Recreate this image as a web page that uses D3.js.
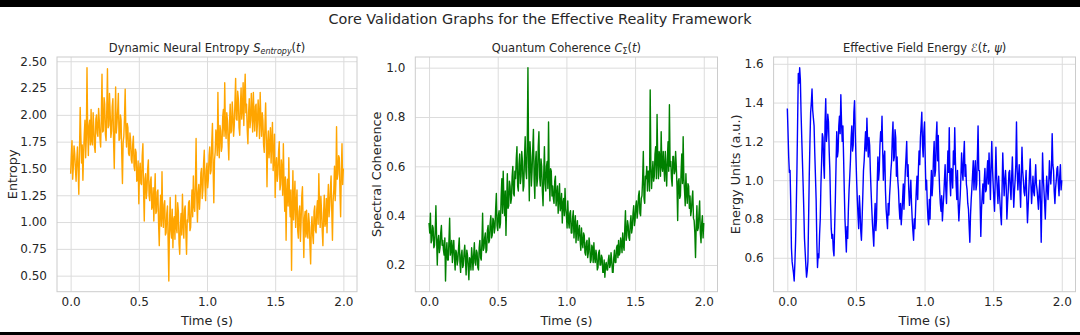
<!DOCTYPE html>
<html><head><meta charset="utf-8">
<script src="https://cdn.jsdelivr.net/npm/d3@7"></script>
<style>
body{margin:0;background:#fff}
svg{display:block}
text{font-family:"DejaVu Sans",sans-serif;fill:#262626}
</style>
</head><body><svg id="c" width="1080" height="335"></svg>
<script>
const chartTitle = "Core Validation Graphs for the Effective Reality Framework";
const xLabel = "Time (s)";
const xTicks = [0, 0.5, 1.0, 1.5, 2.0];
const timeStart = 0, timeStep = 0.005;

const entropy = [
1.45,1.62,1.76,1.40,1.52,1.71,1.64,1.50,1.38,1.58,
1.70,1.48,1.26,1.66,2.07,1.80,1.55,1.72,1.39,1.64,
1.82,1.95,1.60,1.78,2.44,1.85,1.62,1.90,1.95,1.72,
2.05,1.76,1.72,2.02,1.88,1.70,1.65,1.96,2.00,1.83,
1.80,2.06,1.95,1.78,1.70,1.98,2.38,1.84,1.85,2.16,
2.10,1.82,1.76,2.05,2.43,1.88,1.90,2.20,2.02,1.79,
1.85,2.08,2.15,1.75,1.50,1.92,2.26,1.83,1.92,2.04,
2.20,1.76,1.78,2.00,1.95,1.62,1.36,1.74,1.80,1.98,
2.24,1.85,1.70,1.92,1.88,1.64,1.62,1.83,1.76,1.58,
1.55,1.72,1.80,1.52,1.48,1.68,1.65,1.38,1.40,1.57,
1.17,1.48,1.55,1.36,1.35,1.62,1.73,1.28,1.01,1.40,
1.45,1.22,1.30,1.50,1.58,1.25,1.20,1.38,1.42,1.12,
1.15,1.32,1.01,1.24,1.45,1.08,1.10,1.28,1.30,0.98,
0.78,1.12,1.25,0.96,1.47,1.05,0.95,1.16,1.20,0.88,
0.90,1.08,1.15,0.82,0.45,0.98,1.23,0.92,0.85,1.12,
0.76,1.02,1.05,0.84,1.25,0.95,0.90,1.18,1.10,0.80,
0.70,0.96,1.08,0.88,1.26,0.98,0.85,1.12,1.15,0.90,
0.70,1.02,1.00,1.18,1.20,0.92,0.95,1.14,1.30,1.05,
1.43,1.15,1.10,1.36,1.78,1.22,1.00,1.28,1.35,1.12,
1.25,1.46,1.50,1.22,1.30,1.55,1.67,1.35,1.20,1.48,
1.55,1.32,1.40,1.62,1.70,1.45,1.48,1.75,1.92,1.50,
1.18,1.58,1.65,1.86,1.80,1.62,2.21,1.72,1.60,1.90,
1.85,1.66,1.70,1.98,2.05,1.80,2.30,1.88,1.78,2.02,
1.95,1.74,1.58,1.92,2.10,1.83,1.85,2.12,2.00,1.80,
1.90,2.12,2.34,1.96,1.95,2.22,2.15,1.88,1.81,2.08,
2.25,1.96,2.05,2.30,1.90,2.18,2.38,2.02,2.10,1.86,
1.73,2.02,2.15,1.88,1.95,2.20,2.05,1.84,2.21,1.98,
1.85,2.08,2.10,1.80,1.92,2.14,2.00,1.78,2.21,1.95,
1.80,2.02,1.95,1.72,1.65,1.90,2.11,1.78,1.33,1.74,
1.85,1.60,1.70,1.88,1.55,1.76,1.93,1.48,1.60,1.82,
1.23,1.52,1.60,1.38,1.45,1.66,1.75,1.30,1.35,1.58,
1.50,1.25,1.73,1.35,1.10,1.42,0.83,1.28,1.40,1.15,
1.60,1.22,1.05,1.30,0.55,1.12,1.48,1.02,1.20,1.38,
0.95,1.18,1.30,0.92,0.85,1.10,1.15,0.82,1.00,1.24,
1.33,0.98,0.67,1.04,1.10,0.86,1.11,0.90,0.85,1.08,
1.00,0.78,0.61,0.95,1.05,0.88,0.80,1.10,1.15,0.92,
0.90,1.12,1.20,0.98,1.45,1.16,0.95,1.24,1.10,0.92,
0.78,1.08,1.25,0.96,1.00,1.22,0.90,1.18,1.35,1.05,
1.15,1.32,1.43,1.10,0.83,1.20,1.30,1.52,1.20,1.36,
1.89,1.40,1.45,1.62,1.60,1.28,1.05,1.48,1.73,1.35,
1.50];

const coherence = [
0.37,0.33,0.41,0.29,0.30,0.36,0.35,0.27,0.28,0.34,
0.44,0.31,0.20,0.30,0.32,0.25,0.27,0.33,0.36,0.28,
0.30,0.26,0.24,0.31,0.135,0.25,0.29,0.22,0.22,0.30,
0.39,0.24,0.26,0.30,0.21,0.27,0.30,0.23,0.18,0.26,
0.25,0.20,0.22,0.27,0.31,0.21,0.17,0.24,0.26,0.19,
0.20,0.25,0.28,0.22,0.16,0.26,0.24,0.19,0.14,0.23,
0.22,0.18,0.27,0.23,0.18,0.24,0.29,0.21,0.20,0.26,
0.25,0.19,0.18,0.27,0.30,0.23,0.22,0.29,0.41,0.26,
0.27,0.31,0.33,0.25,0.26,0.34,0.36,0.29,0.30,0.37,
0.40,0.31,0.32,0.39,0.38,0.33,0.35,0.43,0.49,0.36,
0.34,0.40,0.42,0.35,0.37,0.48,0.55,0.41,0.58,0.46,
0.40,0.50,0.32,0.45,0.57,0.43,0.44,0.54,0.52,0.45,
0.47,0.56,0.60,0.49,0.48,0.58,0.55,0.63,0.68,0.52,
0.50,0.61,0.65,0.53,0.56,0.66,0.62,0.50,0.52,0.64,
0.72,0.58,0.55,0.68,1.00,0.62,0.46,0.70,0.64,0.52,
0.58,0.67,0.75,0.55,0.47,0.62,0.66,0.52,0.55,0.68,
0.74,0.56,0.52,0.63,0.60,0.50,0.44,0.57,0.68,0.53,
0.50,0.60,0.62,0.51,0.78,0.55,0.46,0.59,0.58,0.48,
0.52,0.47,0.45,0.54,0.56,0.44,0.48,0.52,0.41,0.47,
0.53,0.42,0.44,0.49,0.37,0.45,0.47,0.40,0.51,0.43,
0.40,0.35,0.46,0.38,0.35,0.41,0.42,0.33,0.33,0.39,
0.42,0.31,0.36,0.40,0.29,0.35,0.38,0.30,0.33,0.36,
0.30,0.26,0.35,0.29,0.27,0.33,0.32,0.25,0.24,0.29,
0.30,0.23,0.25,0.31,0.28,0.21,0.22,0.28,0.27,0.21,
0.29,0.23,0.21,0.26,0.24,0.18,0.19,0.25,0.26,0.20,
0.20,0.24,0.23,0.17,0.17,0.22,0.15,0.20,0.21,0.18,
0.18,0.22,0.24,0.19,0.20,0.25,0.22,0.17,0.17,0.23,
0.26,0.21,0.21,0.27,0.28,0.23,0.30,0.24,0.25,0.31,
0.29,0.25,0.33,0.28,0.26,0.35,0.42,0.30,0.32,0.38,
0.36,0.31,0.30,0.37,0.40,0.33,0.35,0.41,0.44,0.36,
0.38,0.44,0.46,0.39,0.42,0.48,0.50,0.41,0.40,0.47,
0.48,0.55,0.66,0.47,0.45,0.56,0.55,0.60,0.50,0.58,
0.58,0.50,0.91,0.60,0.51,0.57,0.62,0.54,0.56,0.65,
0.68,0.55,0.81,0.62,0.55,0.66,0.64,0.56,0.74,0.60,
0.58,0.66,0.60,0.54,0.66,0.59,0.52,0.63,0.70,0.58,
0.85,0.60,0.62,0.55,0.52,0.64,0.64,0.57,0.58,0.66,
0.60,0.52,0.38,0.54,0.55,0.47,0.48,0.58,0.65,0.53,
0.72,0.55,0.50,0.44,0.57,0.49,0.45,0.53,0.52,0.43,
0.48,0.40,0.42,0.47,0.50,0.39,0.38,0.33,0.23,0.36,
0.44,0.34,0.35,0.41,0.46,0.33,0.29,0.37,0.40,0.31,
0.37];

const energy = [
1.37,1.25,1.12,1.04,1.05,0.88,0.65,0.58,0.55,0.52,
0.48,0.57,0.68,0.85,1.05,1.30,1.55,1.50,1.58,1.52,
1.35,1.22,1.10,0.98,0.85,0.70,0.63,0.56,0.50,0.53,
0.58,0.80,1.03,1.20,1.35,1.40,1.47,1.36,1.32,1.28,
1.14,1.02,0.90,0.68,0.55,0.62,0.60,0.72,0.80,0.98,
1.10,1.24,1.22,1.08,1.01,1.30,1.42,1.20,1.25,1.34,
1.30,1.15,1.05,0.88,0.75,0.70,0.72,0.64,0.61,0.76,
0.90,1.08,1.25,1.12,1.15,1.28,1.33,1.24,1.44,1.30,
1.20,1.28,1.12,0.95,0.80,0.72,0.63,0.76,0.70,0.85,
0.95,1.02,1.10,1.22,1.28,1.15,1.18,1.35,1.41,1.25,
1.12,1.00,0.90,0.82,0.75,0.92,0.85,0.74,0.69,0.80,
0.92,1.05,1.10,1.18,1.25,1.15,1.32,1.20,1.12,1.22,
1.18,1.05,0.95,0.86,0.78,0.72,0.66,0.80,0.88,0.74,
0.80,0.98,1.12,1.00,1.05,1.18,1.25,1.20,1.33,1.15,
1.00,1.12,1.15,0.95,0.85,0.80,0.75,0.88,0.82,0.92,
0.98,1.05,1.10,1.22,1.30,1.10,1.12,1.26,1.22,1.02,
1.12,1.00,0.95,0.86,0.80,0.88,0.77,0.83,0.90,0.98,
0.85,0.95,1.05,1.12,1.20,1.02,1.08,0.95,0.87,0.93,
1.00,0.88,0.80,0.74,0.69,0.80,0.75,0.86,0.95,1.02,
0.90,1.05,1.15,1.08,1.22,1.28,1.35,1.18,1.12,1.25,
1.30,1.10,0.95,1.00,0.88,0.80,0.77,0.90,0.80,0.95,
1.05,0.92,0.98,1.12,1.20,1.02,1.05,1.22,1.30,1.10,
1.23,1.05,0.95,0.88,0.84,0.92,0.79,0.86,0.92,1.00,
1.08,0.95,0.88,1.02,1.15,1.04,1.27,1.00,0.92,1.06,
1.05,0.96,1.15,1.08,1.27,1.10,0.98,0.90,1.05,0.88,
0.79,0.86,0.92,1.02,1.14,1.05,1.00,1.12,1.20,1.02,
1.08,0.98,0.95,0.88,0.85,0.76,0.68,0.82,0.90,0.96,
1.03,1.10,0.95,1.04,1.10,0.95,0.98,1.12,1.28,1.05,
1.05,0.88,0.71,0.85,0.92,0.98,0.88,1.00,1.06,0.94,
0.95,1.04,1.10,0.98,1.14,1.02,0.90,1.08,1.20,1.06,
0.98,0.90,0.84,1.00,1.17,1.02,0.95,0.88,1.02,0.94,
0.88,0.82,0.77,0.96,1.14,1.02,0.92,1.00,1.05,0.97,
0.80,0.88,0.95,1.04,1.05,0.96,0.90,1.02,1.12,0.98,
0.86,0.94,1.00,1.08,1.30,1.05,0.95,1.02,1.08,0.96,
0.86,1.02,1.17,1.05,1.00,0.94,0.92,0.98,1.05,0.90,
0.78,0.86,0.95,1.04,1.11,0.98,0.88,0.95,1.02,0.94,
0.92,1.00,1.08,0.98,0.95,0.90,0.85,0.94,1.00,0.88,
0.68,0.90,1.14,1.02,0.95,0.88,0.80,0.92,1.02,0.96,
0.90,0.98,1.10,1.02,0.98,1.06,1.24,1.08,1.05,0.94,
0.88,0.96,1.00,1.06,1.07,0.98,0.92,1.02,1.08,0.95,
1.00];

const entropyTicks = [0.5, 0.75, 1.0, 1.25, 1.5, 1.75, 2.0, 2.25, 2.5];
const coherenceTicks = [0.2, 0.4, 0.6, 0.8, 1.0];
const energyTicks = [0.6, 0.8, 1.0, 1.2, 1.4, 1.6];

const entropyTitle = [["Dynamic Neural Entropy ",""],["S","i"],["entropy","isub"],["(",""],["t","i"],[")",""]];
const coherenceTitle = [["Quantum Coherence ",""],["C","i"],["Σ","sub"],["(",""],["t","i"],[")",""]];
const energyTitle = [["Effective Field Energy ",""],["ℰ",""],["(",""],["t","i"],[", ",""],["ψ","i"],[")",""]];

const panels = [
  {data: entropy, ticks: entropyTicks, fmt: ".2f", title: entropyTitle, ylabel: "Entropy", color: "#ffa500", x0: 57, x1: 357, ylabX: 13},
  {data: coherence, ticks: coherenceTicks, fmt: ".1f", title: coherenceTitle, ylabel: "Spectral Coherence", color: "#008000", x0: 415.3, x1: 717.5, ylabX: 377},
  {data: energy, ticks: energyTicks, fmt: ".1f", title: energyTitle, ylabel: "Energy Units (a.u.)", color: "#0000ff", x0: 773.6, x1: 1075.5, ylabX: 736}
];
const plotTop = 57, plotBottom = 291.7;

const svg = d3.select("#c");
svg.append("rect").attr("width",1080).attr("height",335).attr("fill","#fff");

svg.append("text").attr("x",540).attr("y",24).attr("text-anchor","middle")
  .style("font-size","14.4px").text(chartTitle);

panels.forEach((p, k) => {
  const times = p.data.map((_, i) => timeStart + i * timeStep);
  const x = d3.scaleLinear().domain([-0.1, 2.1]).range([p.x0, p.x1]);
  const [mn, mx] = d3.extent(p.data);
  const m = (mx - mn) * 0.05;
  const y = d3.scaleLinear().domain([mn - m, mx + m]).range([plotBottom, plotTop]);
  const g = svg.append("g");
  const w = p.x1 - p.x0, h = plotBottom - plotTop;

  const gx = g.append("g").attr("transform", `translate(0,${plotBottom})`)
    .call(d3.axisBottom(x).tickValues(xTicks).tickFormat(d3.format(".1f")).tickSize(-h).tickPadding(6));
  const gy = g.append("g").attr("transform", `translate(${p.x0},0)`)
    .call(d3.axisLeft(y).tickValues(p.ticks).tickFormat(d3.format(p.fmt)).tickSize(-w).tickPadding(10));
  [gx, gy].forEach(a => {
    a.select(".domain").remove();
    a.selectAll(".tick line").attr("stroke", "#dcdcdc").attr("stroke-width", 1);
    a.selectAll(".tick text").style("font-size", "12px").attr("fill", "#333")
      .style("font-family", '"DejaVu Sans",sans-serif');
  });

  g.append("rect").attr("x", p.x0).attr("y", plotTop).attr("width", w).attr("height", h)
    .attr("fill", "none").attr("stroke", "#cccccc").attr("stroke-width", 1);

  const cid = "clip" + k;
  svg.append("clipPath").attr("id", cid).append("rect")
    .attr("x", p.x0).attr("y", plotTop).attr("width", w).attr("height", h);
  g.append("path").datum(p.data.map((v, i) => [times[i], v]))
    .attr("clip-path", `url(#${cid})`)
    .attr("fill", "none").attr("stroke", p.color).attr("stroke-width", 1.4)
    .attr("stroke-linejoin", "round")
    .attr("d", d3.line().x(d => x(d[0])).y(d => y(d[1])));

  const tt = g.append("text").attr("x", (p.x0 + p.x1) / 2).attr("y", 51.5)
    .attr("text-anchor", "middle").style("font-size", "11.5px");
  let shifted = false;
  p.title.forEach(([s, st]) => {
    const ts = tt.append("tspan").text(s);
    if (st.includes("i")) ts.style("font-style", "italic");
    if (st.includes("sub")) {
      ts.style("font-size", "8px").attr("dy", 2.6); shifted = true;
    } else if (shifted) {
      ts.attr("dy", -2.6); shifted = false;
    }
  });

  g.append("text").attr("x", (p.x0 + p.x1) / 2).attr("y", 325)
    .attr("text-anchor", "middle").style("font-size", "12.8px").text(xLabel);
  g.append("text").attr("transform", `translate(${p.ylabX},${(plotTop + plotBottom) / 2}) rotate(-90)`)
    .attr("text-anchor", "middle").attr("dy", "0.35em").style("font-size", "12.8px").text(p.ylabel);
});

svg.append("rect").attr("x",0).attr("y",0).attr("width",1080).attr("height",7).attr("fill","#000");
svg.append("rect").attr("x",0).attr("y",332).attr("width",1080).attr("height",3).attr("fill","#000");
</script>
</body></html>
